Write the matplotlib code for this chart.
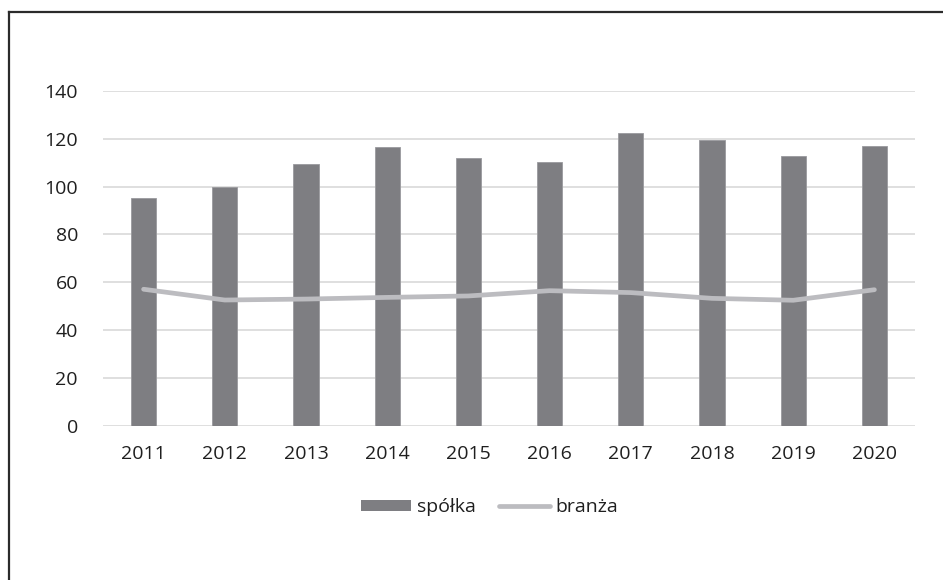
import matplotlib
matplotlib.use("Agg")
import matplotlib.pyplot as plt
from matplotlib.lines import Line2D
from matplotlib.patches import Patch
import numpy as np

years = ["2011", "2012", "2013", "2014", "2015", "2016", "2017", "2018", "2019", "2020"]
spolka = [95.0, 99.6, 109.2, 116.5, 112.0, 110.1, 122.2, 119.3, 112.7, 116.8]
branza = [57.1, 52.6, 53.0, 53.7, 54.3, 56.5, 55.7, 53.3, 52.5, 56.9]
yticks = [0, 20, 40, 60, 80, 100, 120, 140]

plt.rcParams['font.family'] = ['Open Sans', 'DejaVu Sans']
txt = '#1f1f1f'
bar_col = '#7e7e82'
line_col = '#bcbcc0'

fig = plt.figure(figsize=(9.43, 5.80), dpi=100)
ax = fig.add_axes([103/943, 1-426/580, (915-103)/943, (426-90.7)/580])

x = np.arange(len(years))
ax.bar(x, spolka, width=0.31, color=bar_col, edgecolor='#9a9a9e', linewidth=0.6, zorder=2)
ax.plot(x, branza, color=line_col, linewidth=3.4, solid_capstyle='round',
        solid_joinstyle='round', zorder=3)

ax.set_xlim(-0.5, len(years) - 0.5)
ax.set_ylim(0, 140)
ax.set_yticks(yticks)
ax.set_yticklabels([str(v) for v in yticks])
ax.set_xticks(x)
ax.set_xticklabels(years)
ax.tick_params(axis='both', length=0, labelsize=14, colors=txt)
ax.tick_params(axis='y', pad=18)
ax.tick_params(axis='x', pad=14)
ax.yaxis.grid(True, color='#d9d9d9', linewidth=1.2, zorder=0)
ax.set_axisbelow(True)
for s in ax.spines.values():
    s.set_visible(False)

handles = [Patch(facecolor=bar_col, edgecolor='none'),
           Line2D([0], [0], color=line_col, linewidth=3.4, solid_capstyle='round')]
fig.legend(handles, ['spółka', 'branża'], loc='center', bbox_to_anchor=(0.519, 1-507/580),
           ncol=2, frameon=False, fontsize=14, handlelength=2.6, handleheight=0.5,
           handletextpad=0.3, columnspacing=1.2, labelcolor=txt)

# outer frame (top and left)
fig.add_artist(Line2D([8.5/943, 1.0], [1-12/580, 1-12/580], transform=fig.transFigure,
                      color='#2b2b2b', linewidth=1.6))
fig.add_artist(Line2D([8.5/943, 8.5/943], [0.0, 1-12/580], transform=fig.transFigure,
                      color='#2b2b2b', linewidth=1.6))

fig.savefig('out.png', dpi=100)
